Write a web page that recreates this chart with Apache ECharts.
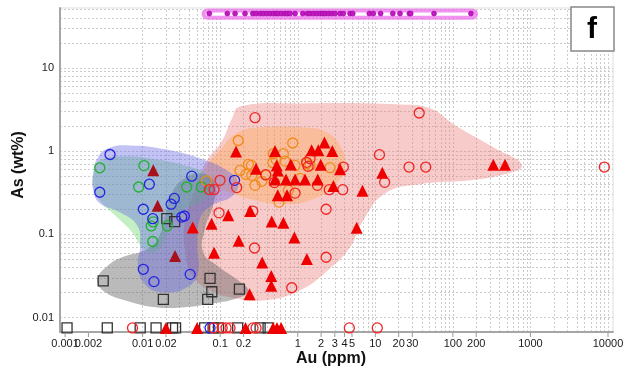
<!DOCTYPE html>
<html>
<head>
<meta charset="utf-8" />
<script src="https://cdn.jsdelivr.net/npm/echarts@6/dist/echarts.min.js"></script>
</head>
<body style="margin:0; background-color:#ffffff">
<div id="main" style="width:632px; height:372px;"></div>
<script type="text/javascript">
// Au (ppm), As (wt%) pairs
var blueCircles = [[0.0038,0.91],[0.0028,0.32],[0.0122,0.40],[0.043,0.50],[0.0256,0.27],[0.0233,0.23],[0.0102,0.20],[0.0135,0.154],[0.0319,0.161],[0.0345,0.166],[0.0102,0.038],[0.014,0.027],[0.041,0.033],[0.153,0.445],[0.074,0.0075]];
var greenCircles = [[0.0028,0.63],[0.0104,0.67],[0.0089,0.37],[0.037,0.37],[0.057,0.37],[0.0129,0.126],[0.0137,0.141],[0.0208,0.126],[0.0135,0.082]];
var darkTriangles = [[0.0137,0.59],[0.0156,0.22],[0.0262,0.055]];
var blackSquares = [[0.0205,0.154],[0.0259,0.142],[0.0031,0.0275],[0.0185,0.0165],[0.074,0.0296],[0.078,0.0204],[0.069,0.0165],[0.177,0.0219],
  [0.00106,0.0075],[0.0035,0.0075],[0.0093,0.0075],[0.0149,0.0075],[0.0243,0.0075],[0.0266,0.0075],[0.063,0.0075],[0.081,0.0075],[0.095,0.0075],[0.168,0.0075],[0.327,0.0075],[0.414,0.0075]];
var redTriangles = [[0.16,0.99],[0.29,0.615],[0.509,1.0],[0.536,0.673],[0.552,0.586],[0.813,0.692],[1.51,1.02],[1.84,1.02],[2.21,1.27],[2.79,1.0],[1.98,0.687],[3.51,0.603],
  [0.509,0.454],[0.706,0.454],[0.923,0.454],[1.24,0.454],[1.81,0.454],[0.552,0.294],[0.728,0.294],[2.88,0.38],[6.84,0.333],[12.3,0.55],[332,0.687],[470,0.687],[5.75,0.12],[1.31,0.0505],
  [0.0443,0.121],[0.0774,0.134],[0.127,0.17],[0.243,0.191],[0.462,0.143],[0.652,0.138],[0.173,0.0836],[0.0834,0.06],[0.348,0.0459],[0.904,0.0913],[0.455,0.0316],[0.455,0.0241],[0.239,0.019],
  [0.02,0.0075],[0.0504,0.0075],[0.212,0.0075],[0.48,0.0075],[0.54,0.0075],[0.61,0.0075]];
var redCircles = [[0.281,2.52],[36.8,2.87],[11.3,0.905],[27.2,0.643],[44.7,0.643],[3.87,0.643],[13.2,0.421],[2.55,0.344],[3.80,0.344],[1.79,0.388],[2.32,0.2],[2.32,0.053],[8960,0.643],
  [0.0966,0.181],[0.263,0.19],[0.277,0.0685],[0.837,0.0228],[0.923,0.313],[0.163,0.364],[0.0995,0.445],[0.0724,0.345],[0.0834,0.345],[0.386,0.521],[1.30,0.732],[1.36,0.655],[1.44,0.81],[0.499,0.418],
  [0.0074,0.0075],[0.082,0.0075],[0.106,0.0075],[0.119,0.0075],[0.134,0.0075],[0.265,0.0075],[0.29,0.0075],[4.62,0.0075],[10.6,0.0075]];
var orangeCircles = [[0.171,1.34],[0.861,1.25],[0.484,0.93],[0.525,0.795],[0.231,0.692],[0.253,0.673],[0.215,0.525],[0.255,0.511],[0.39,0.511],[0.685,0.759],[0.923,0.673],[1.44,0.673],
  [0.344,0.433],[0.574,0.457],[0.757,0.338],[0.574,0.244],[0.0667,0.439],[2.61,0.632],[1.31,0.706],[0.477,0.726],[0.18,0.586],[1.07,0.47],[0.281,0.388],[0.652,0.93]];
var magentaDots = [[0.0724,45],[0.1236,45],[0.1556,45],[0.209,45],[0.263,45],[0.29,45],[0.327,45],[0.36,45],[0.398,45],[0.44,45],[0.484,45],[0.525,45],[0.562,45],[0.622,45],
  [0.685,45],[0.735,45],[0.796,45],[0.923,45],[1.16,45],[1.33,45],[1.44,45],[1.59,45],[1.76,45],[1.94,45],[2.10,45],[2.25,45],[2.48,45],[2.74,45],[3.03,45],[3.51,45],[3.87,45],
  [4.72,45],[5.12,45],[8.37,45],[9.42,45],[11.7,45],[16.8,45],[20.8,45],[27.5,45],[28.6,45],[57.1,45],[171,45]];

// outlines of the shaded fields
var pinkField = [[0.18,3.44],[1.07,3.74],[20.8,3.64],[50.7,3.26],[107,2.04],[349,1.08],[778,0.673],[405,0.511],[166,0.445],[37.8,0.40],[13.3,0.31],[6.74,0.139],[4.72,0.0698],
  [2.45,0.037],[1.07,0.0213],[0.378,0.0161],[0.156,0.0171],[0.074,0.0213],[0.0434,0.0322],[0.0352,0.0643],[0.0352,0.147],[0.0474,0.338],[0.0638,0.711],[0.106,1.34],[0.142,2.47]];
var orangeField = [[0.0638,0.587],[0.0995,1.02],[0.17,1.68],[0.347,1.93],[1.07,1.93],[2.25,1.72],[3.51,1.17],[4.07,0.673],[3.03,0.388],[1.67,0.27],[0.685,0.229],[0.281,0.256],[0.134,0.319],[0.074,0.40]];
var grayField = [[0.0026,0.028],[0.0036,0.0425],[0.0059,0.0545],[0.0107,0.0643],[0.0158,0.0895],[0.0195,0.169],[0.0239,0.319],[0.0386,0.497],[0.0638,0.525],[0.0859,0.388],[0.0809,0.223],
  [0.0638,0.118],[0.0601,0.0608],[0.0938,0.0413],[0.17,0.028],[0.229,0.0213],[0.18,0.0175],[0.0859,0.0149],[0.0352,0.0133],[0.0145,0.0133],[0.0065,0.0157],[0.0033,0.0201]];
var greenField = [[0.00237,0.587],[0.00282,0.773],[0.00512,0.863],[0.0125,0.817],[0.0352,0.673],[0.0697,0.511],[0.0785,0.338],[0.055,0.242],[0.0304,0.184],[0.0213,0.106],[0.0158,0.0643],
  [0.0107,0.0643],[0.0073,0.106],[0.0044,0.169],[0.0028,0.256],[0.0023,0.388]];
var blueField = [[0.0023,0.511],[0.0026,0.817],[0.0036,1.08],[0.0069,1.17],[0.0195,1.05],[0.055,0.817],[0.116,0.603],[0.17,0.421],[0.142,0.286],[0.0785,0.223],[0.055,0.156],[0.0504,0.0738],
  [0.0519,0.035],[0.0374,0.0231],[0.0178,0.0201],[0.0107,0.0251],[0.0087,0.0425],[0.0093,0.0738],[0.0085,0.128],[0.0051,0.184],[0.0028,0.236],[0.0023,0.338]];
var magentaBand = [[0.061,40],[199,49]];

var xTickValues = [0.001,0.002,0.01,0.02,0.1,0.2,1,2,3,4,5,10,20,30,100,200,1000,10000];
var xTickLabels = ['0.001','0.002','0.01','0.02','0.1','0.2','1','2','3','4','5','10','20','30','100','200','1000','10000'];
var yTickLabels = ['0.01','0.1','1','10'];

var xMin = 0.00086, xMax = 11600, yMin = 0.0067, yMax = 52.4;
var font = 'Liberation Sans, Arial, sans-serif';

// dotted grid at every 1..9 step of each decade
var gridLines = [];
for (var e = -4; e <= 4; e++) {
  for (var k = 1; k <= 9; k++) {
    var v = k * Math.pow(10, e);
    if (v > xMin && v < xMax) gridLines.push({ xAxis: v });
    if (v > yMin && v < yMax) gridLines.push({ yAxis: v });
  }
}

function field(points, fill, z) {
  return {
    type: 'custom', z: z, silent: true, animation: false,
    data: [[1, 1]],
    renderItem: function (params, api) {
      var pts = points.map(function (p) { return api.coord(p); });
      return { type: 'polygon', shape: { points: pts, smooth: 0.45 }, style: { fill: fill } };
    }
  };
}

function dots(data, symbol, size, color, filled, z) {
  return {
    type: 'scatter', z: z, silent: true, animation: false, clip: false,
    data: data, symbol: symbol, symbolSize: size,
    itemStyle: filled
      ? { color: color, borderWidth: 0, opacity: 1 }
      : { color: 'rgba(0,0,0,0)', borderColor: color, borderWidth: 1.3, opacity: 1 }
  };
}

var myChart = echarts.init(document.getElementById('main'));

var option = {
  backgroundColor: '#ffffff',
  animation: false,
  grid: { left: 60, right: 19, top: 8, bottom: 40, show: true, borderColor: '#dddddd', borderWidth: 1 },
  xAxis: {
    type: 'log', min: xMin, max: xMax,
    axisLine: { lineStyle: { color: '#a6a6a6', width: 2 } },
    axisTick: { show: false }, axisLabel: { show: false }, splitLine: { show: false }
  },
  yAxis: {
    type: 'log', min: yMin, max: yMax,
    axisLine: { show: true, lineStyle: { color: '#a6a6a6', width: 2 } },
    axisTick: { show: false }, splitLine: { show: false },
    axisLabel: {
      color: '#1a1a1a', fontSize: 11, fontFamily: font, margin: 6,
      formatter: function (v) {
        var e = Math.log10(v), r = Math.round(e);
        if (Math.abs(e - r) > 1e-6) return '';
        return yTickLabels[r + 2] || '';
      }
    }
  },
  series: [
    {
      type: 'scatter', z: 0, silent: true, data: [[1, 1]], symbolSize: 0,
      markLine: {
        z: 0, silent: true, symbol: ['none', 'none'], animation: false,
        label: { show: false },
        lineStyle: { color: '#cccccc', type: [2, 2], width: 1 },
        emphasis: { disabled: true },
        data: gridLines
      }
    },
    field(pinkField, 'rgba(237,117,117,0.38)', 1),
    field(orangeField, 'rgba(250,165,80,0.38)', 1),
    field(grayField, 'rgba(90,90,90,0.42)', 1),
    field(greenField, 'rgba(100,212,100,0.38)', 1),
    field(blueField, 'rgba(95,95,230,0.38)', 1),
    {
      type: 'custom', z: 2, silent: true, animation: false, data: [[1, 1]],
      renderItem: function (params, api) {
        var a = api.coord([magentaBand[0][0], magentaBand[1][1]]);
        var b = api.coord([magentaBand[1][0], magentaBand[0][1]]);
        var h = b[1] - a[1];
        return {
          type: 'rect',
          shape: { x: a[0], y: a[1], width: b[0] - a[0], height: h, r: h / 2 },
          style: { fill: 'rgba(255,255,255,0.9)', stroke: 'rgba(236,110,236,0.75)', lineWidth: 4 }
        };
      }
    },
    dots(blackSquares, 'rect', 10, '#333333', false, 3),
    dots(greenCircles, 'circle', 10, '#22b030', false, 3),
    dots(blueCircles, 'circle', 10, '#2323e0', false, 3),
    dots(orangeCircles, 'circle', 10, '#f18a1a', false, 3),
    dots(redCircles, 'circle', 10, '#f02424', false, 3),
    dots(redTriangles, 'triangle', 12, '#ee0000', true, 4),
    dots(darkTriangles, 'triangle', 12, '#a8101c', true, 4),
    {
      type: 'scatter', z: 4, silent: true, animation: false,
      data: magentaDots, symbol: 'circle', symbolSize: 5,
      itemStyle: { color: '#c418c4', borderColor: '#8a008a', borderWidth: 0.5, opacity: 1 }
    },
    {
      // tick marks and labels of the Au axis
      type: 'scatter', z: 5, silent: true, animation: false, clip: false,
      data: xTickValues.map(function (v) { return [v, yMin]; }),
      symbol: 'rect', symbolSize: [1, 4], symbolOffset: [0, 3],
      itemStyle: { color: '#999999', opacity: 1 },
      label: {
        show: true, position: 'bottom', distance: 1,
        color: '#1a1a1a', fontSize: 11, fontFamily: font,
        formatter: function (p) { return xTickLabels[p.dataIndex]; }
      }
    }
  ],
  graphic: [
    { type: 'text', z: 100, x: 331, y: 359, style: { text: 'Au (ppm)', font: 'bold 16px ' + font, fill: '#111', align: 'center', verticalAlign: 'middle' } },
    { type: 'text', z: 100, x: 19, y: 165, rotation: Math.PI / 2, style: { text: 'As (wt%)', font: 'bold 16px ' + font, fill: '#111', align: 'center', verticalAlign: 'middle' } },
    { type: 'rect', z: 100, shape: { x: 571, y: 7, width: 43, height: 44 }, style: { fill: '#ffffff', stroke: '#888888', lineWidth: 1.5 } },
    { type: 'text', z: 101, x: 592, y: 30, style: { text: 'f', font: 'bold 30px ' + font, fill: '#000', align: 'center', verticalAlign: 'middle' } }
  ]
};

myChart.setOption(option);
</script>
</body>
</html>
